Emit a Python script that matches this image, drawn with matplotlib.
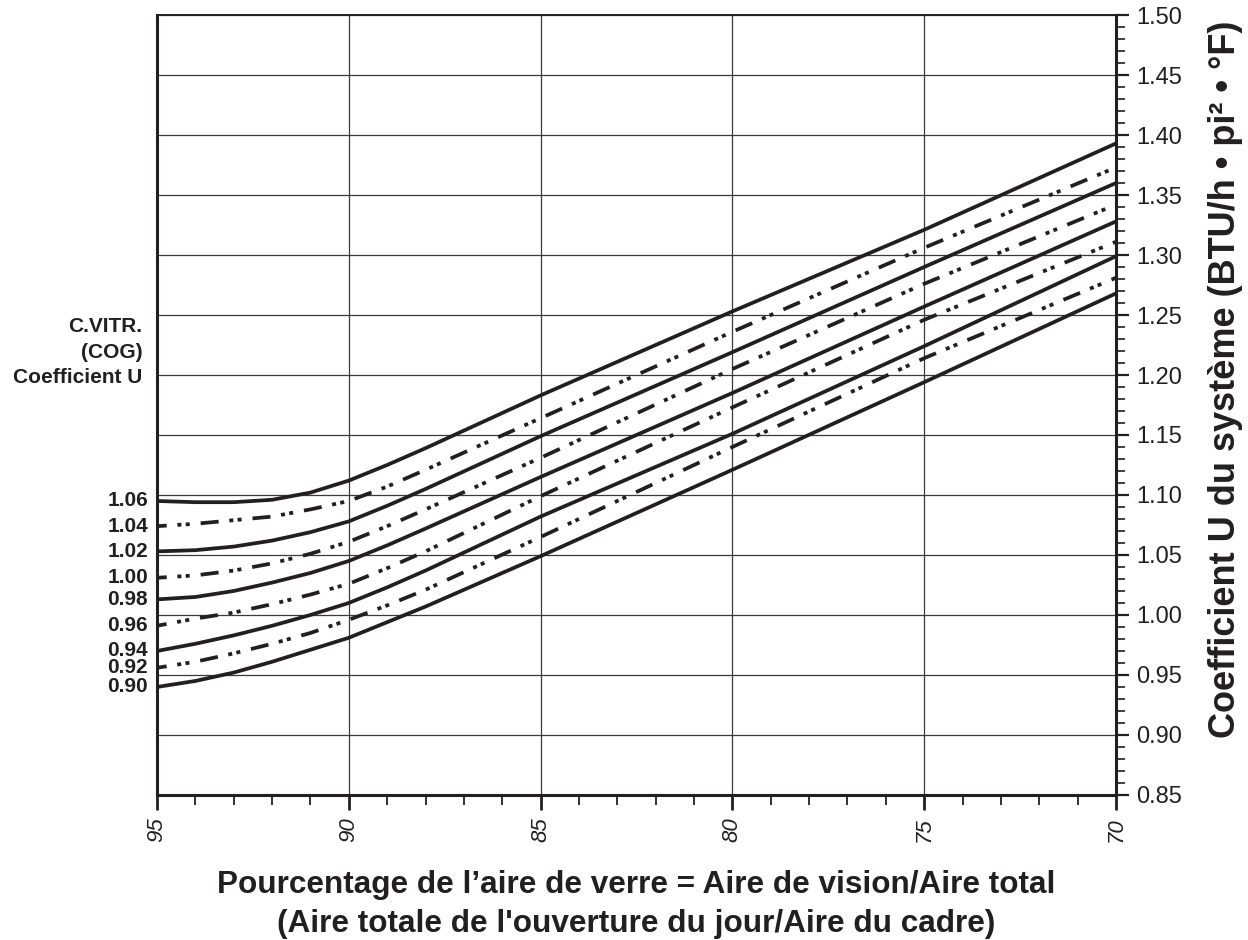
import matplotlib
matplotlib.use("Agg")
import matplotlib.pyplot as plt
from matplotlib.ticker import MultipleLocator, FormatStrFormatter

plt.rcParams['font.family'] = ['Liberation Sans', 'DejaVu Sans']
plt.rcParams['lines.scale_dashes'] = False

INK = '#231f20'

# Percentage of glass area (x) and system U-factor for each centre-of-glass value
pct = [95, 94, 93, 92, 91, 90, 89, 88, 85, 80, 75, 70]
cog_labels = ['1.06', '1.04', '1.02', '1.00', '0.98', '0.96', '0.94', '0.92', '0.90']
u_106 = [1.095, 1.094, 1.094, 1.096, 1.102, 1.112, 1.125, 1.139, 1.183, 1.253, 1.321, 1.393]
u_104 = [1.074, 1.076, 1.079, 1.082, 1.088, 1.095, 1.107, 1.121, 1.164, 1.236, 1.306, 1.373]
u_102 = [1.053, 1.054, 1.057, 1.062, 1.069, 1.078, 1.091, 1.105, 1.149, 1.219, 1.290, 1.360]
u_100 = [1.031, 1.033, 1.037, 1.043, 1.051, 1.061, 1.074, 1.088, 1.131, 1.205, 1.276, 1.342]
u_098 = [1.013, 1.015, 1.020, 1.027, 1.035, 1.045, 1.058, 1.072, 1.115, 1.185, 1.257, 1.328]
u_096 = [0.991, 0.997, 1.002, 1.009, 1.017, 1.026, 1.039, 1.053, 1.099, 1.173, 1.246, 1.311]
u_094 = [0.970, 0.976, 0.983, 0.991, 1.000, 1.010, 1.023, 1.037, 1.082, 1.151, 1.224, 1.299]
u_092 = [0.956, 0.961, 0.968, 0.976, 0.985, 0.996, 1.008, 1.021, 1.065, 1.140, 1.214, 1.281]
u_090 = [0.940, 0.945, 0.952, 0.961, 0.971, 0.981, 0.994, 1.007, 1.049, 1.121, 1.194, 1.268]
curves = [u_106, u_104, u_102, u_100, u_098, u_096, u_094, u_092, u_090]

fig = plt.figure(figsize=(12.48, 9.4), dpi=100)
ax = fig.add_axes([0.1258, 0.1543, 0.7684, 0.8297])

dashdotdot = (6, (13, 7.7, 2.9, 3.1, 2.9, 7.9))
for i, u in enumerate(curves):
    ls = '-' if i % 2 == 0 else dashdotdot
    ax.plot(pct, u, color=INK, lw=2.7, ls=ls, solid_capstyle='butt', zorder=3)
    # COG value written just left of where each curve starts
    ax.text(95.23, u[0], cog_labels[i], ha='right', va='center',
            fontsize=15, fontweight='bold', color=INK)

ax.text(95.38, 1.219, 'C.VITR.\n(COG)\nCoefficient U', ha='right', va='center',
        fontsize=15, fontweight='bold', color=INK, linespacing=1.45)

ax.set_xlim(95, 70)
ax.set_ylim(0.85, 1.50)

ax.xaxis.set_major_locator(MultipleLocator(5))
ax.xaxis.set_minor_locator(MultipleLocator(1))
ax.yaxis.set_major_locator(MultipleLocator(0.05))
ax.yaxis.set_minor_locator(MultipleLocator(0.01))
ax.yaxis.set_major_formatter(FormatStrFormatter('%.2f'))

ax.yaxis.tick_right()
ax.tick_params(axis='y', which='major', length=9.5, width=1.6, color=INK,
               labelsize=17, labelcolor=INK, pad=5)
ax.tick_params(axis='y', which='minor', length=6.5, width=1.2, color=INK)
ax.tick_params(axis='x', which='major', length=11, width=2.0, color=INK,
               labelsize=16, labelcolor=INK, pad=5, labelrotation=90)
ax.tick_params(axis='x', which='minor', length=7.5, width=1.3, color=INK)
for lab in ax.get_xticklabels():
    lab.set_fontstyle('italic')
    lab.set_va('top')

ax.grid(True, which='major', color='#3a3a3a', lw=0.9)
ax.set_axisbelow(True)

for side in ['left', 'bottom', 'right']:
    ax.spines[side].set_linewidth(2.2)
    ax.spines[side].set_color(INK)
ax.spines['top'].set_linewidth(1.4)
ax.spines['top'].set_color(INK)

fig.text(0.982, 0.596, 'Coefficient U du système (BTU/h • pi² • °F)', rotation=90,
         ha='center', va='center', fontsize=26, fontweight='bold', color=INK)

fig.text(0.5096, 0.038, "Pourcentage de l’aire de verre = Aire de vision/Aire total\n"
         "(Aire totale de l'ouverture du jour/Aire du cadre)",
         ha='center', va='center', fontsize=22.7, fontweight='bold', color=INK,
         linespacing=1.4)

fig.savefig('out.png', dpi=100)
